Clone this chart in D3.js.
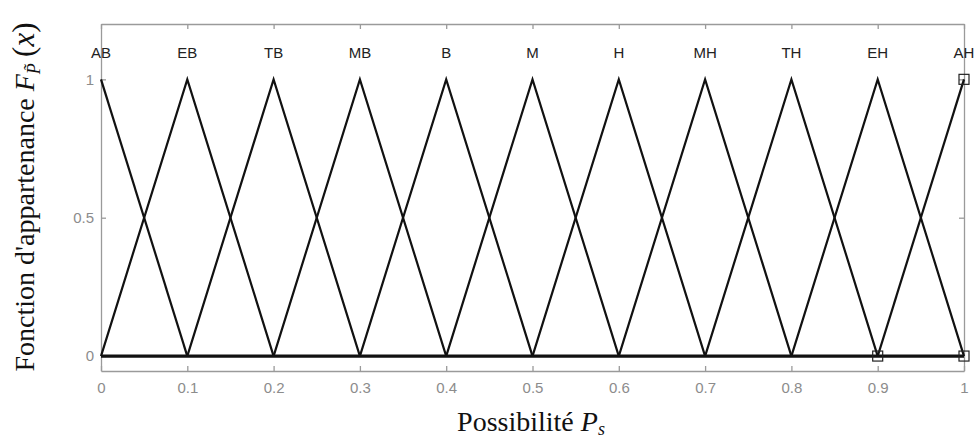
<!DOCTYPE html>
<html>
<head>
<meta charset="utf-8">
<script src="https://cdn.jsdelivr.net/npm/d3@7"></script>
<style>
  body { margin: 0; background: #fff; }
  .tick text { fill: #8c8c8c; font-family: "Liberation Sans", Arial, sans-serif; font-size: 15px; }
</style>
</head>
<body>
<script>
// svg size
var w = 979, h = 438;

// linguistic terms and their peak positions
var terms = ["AB", "EB", "TB", "MB", "B", "M", "H", "MH", "TH", "EH", "AH"];
var peaks = [0, 0.1, 0.2, 0.3, 0.4, 0.5, 0.6, 0.7, 0.8, 0.9, 1];
var xTicks = [0, 0.1, 0.2, 0.3, 0.4, 0.5, 0.6, 0.7, 0.8, 0.9, 1];
var yTicks = [0, 0.5, 1];
var xTickLabels = ["0", "0.1", "0.2", "0.3", "0.4", "0.5", "0.6", "0.7", "0.8", "0.9", "1"];
var yTickLabels = ["0", "0.5", "1"];
// points marked with squares (last series)
var markers = [{x: 0.9, y: 0}, {x: 1, y: 0}, {x: 1, y: 1}];

window.onload = function(){

    var svg = d3.select("body").append("svg")
        .attr("width", w)
        .attr("height", h);

    var left = 101, right = 964, top = 24, bottom = 371;

    var x = d3.scaleLinear().domain([0, 1]).range([left, right]);
    var y = d3.scaleLinear().domain([-0.054, 1.2]).range([bottom, top]);

    // axes with inward ticks
    svg.append("g")
        .attr("transform", "translate(0," + bottom + ")")
        .call(d3.axisBottom(x).tickValues(xTicks).tickSizeInner(-5).tickSizeOuter(0).tickPadding(11)
            .tickFormat(function(d, i){ return xTickLabels[i]; }));
    svg.append("g")
        .attr("transform", "translate(0," + top + ")")
        .call(d3.axisTop(x).tickValues(xTicks).tickSizeInner(-5).tickSizeOuter(0).tickFormat(""));
    svg.append("g")
        .attr("transform", "translate(" + left + ",0)")
        .call(d3.axisLeft(y).tickValues(yTicks).tickSizeInner(-5).tickSizeOuter(0).tickPadding(7)
            .tickFormat(function(d, i){ return yTickLabels[i]; }));
    svg.append("g")
        .attr("transform", "translate(" + right + ",0)")
        .call(d3.axisRight(y).tickValues(yTicks).tickSizeInner(-5).tickSizeOuter(0).tickFormat(""));

    svg.selectAll(".domain, .tick line")
        .attr("stroke", "#9a9a9a")
        .attr("stroke-width", 1.3);

    // membership triangles
    var line = d3.line()
        .x(function(d){ return x(d[0]); })
        .y(function(d){ return y(d[1]); });

    peaks.forEach(function(c){
        var pts = [];
        if (c - 0.1 >= 0) pts.push([c - 0.1, 0]);
        pts.push([c, 1]);
        if (c + 0.1 <= 1.0001) pts.push([c + 0.1, 0]);
        svg.append("path")
            .attr("d", line(pts))
            .attr("fill", "none")
            .attr("stroke", "#111")
            .attr("stroke-width", 2.2);
    });

    // zero segments of all functions overlap into a thick baseline
    svg.append("path")
        .attr("d", line([[0, 0], [1, 0]]))
        .attr("fill", "none")
        .attr("stroke", "#111")
        .attr("stroke-width", 3.2);

    // square markers
    svg.selectAll(".marker")
        .data(markers)
        .enter()
        .append("rect")
        .attr("class", "marker")
        .attr("x", function(d){ return x(d.x) - 5; })
        .attr("y", function(d){ return y(d.y) - 5; })
        .attr("width", 10)
        .attr("height", 10)
        .attr("fill", "none")
        .attr("stroke", "#222")
        .attr("stroke-width", 1.2);

    // term labels above peaks
    svg.selectAll(".term")
        .data(terms)
        .enter()
        .append("text")
        .attr("class", "term")
        .attr("x", function(d, i){ return x(peaks[i]); })
        .attr("y", 58)
        .attr("text-anchor", "middle")
        .style("font-family", "'Liberation Sans', Arial, sans-serif")
        .style("font-size", "15px")
        .style("fill", "#222")
        .text(function(d){ return d; });

    // x axis title
    var xt = svg.append("text")
        .attr("x", 531)
        .attr("y", 431)
        .attr("text-anchor", "middle")
        .style("font-family", "'Liberation Serif', 'Times New Roman', serif")
        .style("font-size", "28px")
        .style("fill", "#111");
    xt.append("tspan").text("Possibilité ");
    xt.append("tspan").style("font-style", "italic").text("P");
    xt.append("tspan").style("font-style", "italic").style("font-size", "18px").attr("dy", 4).text("s");

    // y axis title
    var yt = svg.append("text")
        .attr("transform", "translate(34,197) rotate(-90)")
        .attr("text-anchor", "middle")
        .style("font-family", "'Liberation Serif', 'Times New Roman', serif")
        .style("font-size", "28px")
        .style("fill", "#111");
    yt.append("tspan").text("Fonction d'appartenance ");
    yt.append("tspan").style("font-style", "italic").text("F");
    yt.append("tspan").style("font-style", "italic").style("font-size", "18px").attr("dy", 6).text("P\u0303");
    yt.append("tspan").attr("dy", -6).style("font-size", "31px").text("\u2009(");
    yt.append("tspan").style("font-style", "italic").style("font-size", "31px").text("x");
    yt.append("tspan").style("font-size", "31px").text(")");
};
</script>
</body>
</html>
